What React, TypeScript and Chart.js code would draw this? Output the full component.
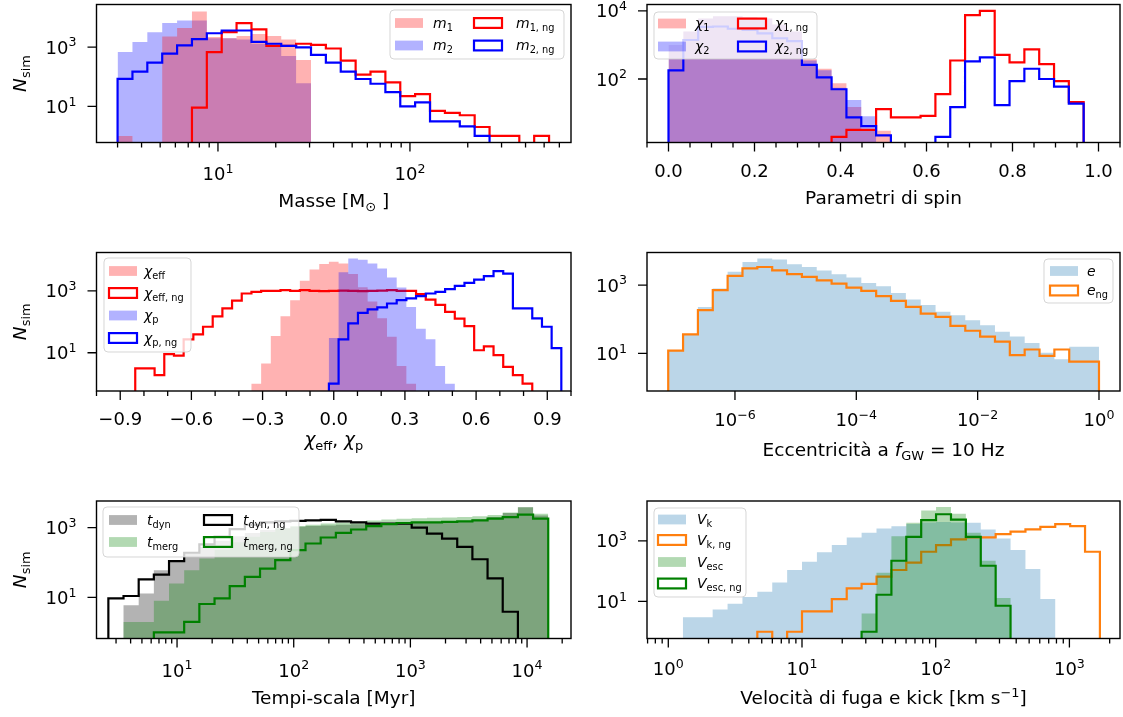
import React, { useEffect, useRef } from 'react';
import { Chart, registerables } from 'chart.js';

Chart.register(...registerables);

const PAGE_W = 1123;
const PAGE_H = 717;
const FAMILY = '"DejaVu Sans", "Liberation Sans", sans-serif';
const FLOOR = 1e-4;
const TICK_FS = 18;
const TITLE_FS = 18.5;
const LEG_FS = 14;

type Part = [string, string];

// ---------------- Panel 1: masses ----------------
const massEdges = [3.0, 3.586, 4.286, 5.124, 6.125, 7.321, 8.751, 10.46, 12.5, 14.95, 17.87, 21.36, 25.53, 30.52, 36.48, 43.61, 52.13, 62.31, 74.48, 89.03, 106.4, 127.2, 152.1, 181.8, 217.3, 259.8, 310.5, 371.2, 443.7, 530.4];
const m1Counts = [1, 0, 0, 2300, 4400, 16000, 2200, 2000, 2400, 2800, 2400, 1800, 370, 0, 0, 0, 0, 0, 0, 0, 0, 0, 0, 0, 0, 0, 0, 0, 0];
const m2Counts = [680, 1480, 3200, 6500, 8000, 8000, 2000, 2000, 1800, 1300, 1100, 500, 60, 0, 0, 0, 0, 0, 0, 0, 0, 0, 0, 0, 0, 0, 0, 0, 0];
const m1ngCounts = [0, 0, 0, 0, 0, 9, 680, 3200, 6500, 4000, 1100, 1100, 1300, 1200, 900, 350, 117, 150, 65, 22, 26, 7, 6, 5, 2, 1, 1, 0, 1];
const m2ngCounts = [85, 150, 300, 600, 1150, 1860, 2950, 3650, 3650, 1500, 1300, 1100, 980, 550, 300, 150, 84, 58, 30, 10, 13.6, 3.1, 3.1, 2.1, 1, 0, 0, 0, 0];

// ---------------- Panel 2: spins ----------------
const spinEdges = [0, 0.0345, 0.069, 0.1034, 0.1379, 0.1724, 0.2069, 0.2414, 0.2759, 0.3103, 0.3448, 0.3793, 0.4138, 0.4483, 0.4828, 0.5172, 0.5517, 0.5862, 0.6207, 0.6552, 0.6897, 0.7241, 0.7586, 0.7931, 0.8276, 0.8621, 0.8966, 0.931, 0.9655, 1.0];
const chi1Counts = [1000, 2500, 6000, 7000, 7000, 6500, 6000, 4000, 2500, 380, 200, 75, 15, 3, 3, 0, 0, 0, 0, 0, 0, 0, 0, 0, 0, 0, 0, 0, 0];
const chi2Counts = [1000, 2500, 6000, 7000, 7000, 6500, 6000, 4000, 2500, 350, 180, 55, 24, 8, 0, 0, 0, 0, 0, 0, 0, 0, 0, 0, 0, 0, 0, 0, 0];
const chi1ngCounts = [0, 0, 0, 0, 0, 0, 0, 0, 0, 0, 0, 2, 3.2, 3.2, 13, 7.4, 7.4, 8.3, 36, 350, 7600, 10000, 510, 310, 740, 275, 87, 21, 0];
const chi2ngCounts = [180, 1400, 3400, 3500, 3000, 2800, 2200, 1580, 1300, 260, 112, 50, 7.4, 4.1, 2.2, 0, 0, 0, 2, 15, 330, 430, 17, 87, 200, 100, 60, 19, 0];

// ---------------- Panel 3: chi_eff, chi_p ----------------
const effEdges = [-1, -0.9592, -0.9184, -0.8776, -0.8367, -0.7959, -0.7551, -0.7143, -0.6735, -0.6327, -0.5918, -0.551, -0.5102, -0.4694, -0.4286, -0.3878, -0.3469, -0.3061, -0.2653, -0.2245, -0.1837, -0.1429, -0.102, -0.0612, -0.0204, 0.0204, 0.0612, 0.102, 0.1429, 0.1837, 0.2245, 0.2653, 0.3061, 0.3469, 0.3878, 0.4286, 0.4694, 0.5102, 0.551, 0.5918, 0.6327, 0.6735, 0.7143, 0.7551, 0.7959, 0.8367, 0.8776, 0.9184, 0.9592, 1];
const chiEffCounts = [0, 0, 0, 0, 0, 0, 0, 0, 0, 0, 0, 0, 0, 0, 0, 0, 1, 4.5, 35, 150, 500, 2100, 4900, 7300, 8700, 7600, 3500, 1300, 450, 130, 33, 3.7, 1, 0, 0, 0, 0, 0, 0, 0, 0, 0, 0, 0, 0, 0, 0, 0, 0];
const chiEffNgCounts = [0, 0, 0, 0, 3.1, 3.1, 1.9, 9, 8, 27, 39, 69, 150, 270, 480, 820, 930, 1000, 1000, 1050, 1000, 1050, 1000, 980, 1000, 1020, 1000, 980, 1000, 1020, 1050, 1000, 1000, 780, 520, 350, 210, 127, 72, 12, 16, 8.4, 3.5, 1.9, 1, 0, 0, 0, 0];
const chiPCounts = [0, 0, 0, 0, 0, 0, 0, 0, 0, 0, 0, 0, 0, 0, 0, 0, 0, 0, 0, 0, 0, 0, 0, 0, 30, 4000, 11000, 10000, 7600, 5300, 2700, 1270, 300, 60, 27, 3.7, 1, 0, 0, 0, 0, 0, 0, 0, 0, 0, 0, 0, 0];
const chiPNgCounts = [0, 0, 0, 0, 0, 0, 0, 0, 0, 0, 0, 0, 0, 0, 0, 0, 0, 0, 0, 0, 0, 0, 0, 0, 1, 27, 89, 195, 250, 290, 390, 500, 570, 670, 820, 930, 1130, 1450, 1800, 2300, 3000, 4300, 3600, 270, 270, 128, 69, 14, 0];

// ---------------- Panel 4: eccentricity ----------------
const eccEdges = [7.943e-8, 1.395e-7, 2.452e-7, 4.309e-7, 7.57e-7, 1.33e-6, 2.337e-6, 4.107e-6, 7.217e-6, 1.268e-5, 2.228e-5, 3.916e-5, 6.88e-5, 1.209e-4, 2.125e-4, 3.733e-4, 6.56e-4, 1.153e-3, 2.025e-3, 3.559e-3, 6.252e-3, 1.099e-2, 1.93e-2, 3.392e-2, 5.96e-2, 0.1047, 0.184, 0.3233, 0.5681, 1.0];
const eCounts = [12, 36, 230, 790, 2450, 4800, 6000, 5600, 4100, 3400, 2700, 2100, 1660, 1160, 930, 590, 380, 260, 165, 132, 94, 67, 43, 31, 20, 10.5, 6.7, 15.6, 15.6];
const eNgCounts = [12, 36, 185, 710, 1870, 3100, 3400, 2700, 2100, 1740, 1380, 1110, 850, 680, 475, 345, 230, 147, 118, 64, 46, 31, 22, 8.9, 13, 8.4, 13, 5.7, 5.7];

// ---------------- Panel 5: time scales ----------------
const timeEdges = [2.578, 3.477, 4.691, 6.327, 8.536, 11.51, 15.53, 20.96, 28.27, 38.13, 51.44, 69.39, 93.59, 126.2, 170.3, 229.7, 309.9, 418.1, 564.0, 760.8, 1026, 1385, 1868, 2520, 3399, 4586, 6186, 8346, 11259, 15188];
const tDynCounts = [0, 6, 13, 60, 110, 180, 280, 420, 560, 700, 850, 950, 1050, 1100, 1150, 1200, 1250, 1250, 1300, 1300, 1350, 1400, 1450, 1500, 1700, 2000, 2600, 3800, 2200];
const tMergCounts = [0, 2, 2, 8, 25, 60, 130, 230, 380, 550, 750, 950, 1100, 1200, 1300, 1400, 1500, 1600, 1700, 1800, 1850, 1900, 1950, 2000, 2100, 2300, 2700, 3800, 2500];
const tDynNgCounts = [9.4, 11, 33, 45, 109, 190, 330, 550, 900, 1200, 1400, 1500, 1550, 1600, 1650, 1500, 1400, 1300, 1300, 1300, 1000, 670, 480, 280, 124, 35, 3.9, 0, 0];
const tMergNgCounts = [0, 0, 0, 1, 1, 2, 6.5, 9.4, 21, 39, 67, 117, 225, 350, 520, 700, 880, 1100, 1250, 1350, 1400, 1400, 1450, 1500, 1600, 1800, 2000, 2350, 1800];

// ---------------- Panel 6: velocities ----------------
const velEdges = [1.285, 1.661, 2.147, 2.775, 3.586, 4.634, 5.99, 7.742, 10.0, 12.93, 16.71, 21.6, 27.91, 36.08, 46.63, 60.26, 77.88, 100.6, 130.1, 168.1, 217.3, 280.8, 362.9, 469.1, 606.3, 783.4, 1013, 1309, 1691];
const vkCounts = [3, 3, 5.4, 8.4, 14, 21, 42, 109, 205, 415, 720, 1290, 1830, 2540, 3000, 3600, 4000, 4200, 4000, 3900, 2360, 1200, 500, 117, 12, 0, 0, 0];
const vkNgCounts = [0, 0, 0, 0, 0, 1, 0, 1, 4.7, 4.7, 12, 27, 38, 66, 109, 190, 435, 720, 1110, 1290, 1290, 1660, 1990, 2360, 2870, 3540, 3030, 435];
const vEscCounts = [0, 0, 0, 0, 0, 0, 0, 0, 0, 0, 0, 0, 4, 89, 1400, 3900, 10000, 13000, 7800, 1830, 220, 13, 0, 0, 0, 0, 0, 0];
const vEscNgCounts = [0, 0, 0, 0, 0, 0, 0, 0, 0, 0, 0, 0, 1, 16.6, 220, 1350, 4800, 7500, 5000, 1350, 150, 7.2, 0, 0, 0, 0, 0, 0];

// ---------------- Tick values & labels ----------------
const massMajor = [10, 100];
const massMajorLabels: Part[][] = [[['10', 'n'], ['1', 'p']], [['10', 'n'], ['2', 'p']]];
const massMinor = [3, 4, 5, 6, 7, 8, 9, 20, 30, 40, 50, 60, 70, 80, 90, 200, 300, 400, 500, 600];
const spinMajor = [0, 0.2, 0.4, 0.6, 0.8, 1.0];
const spinMajorLabels: Part[][] = [[['0.0', 'n']], [['0.2', 'n']], [['0.4', 'n']], [['0.6', 'n']], [['0.8', 'n']], [['1.0', 'n']]];
const spinMinor = [-0.05, 0.05, 0.1, 0.15, 0.25, 0.3, 0.35, 0.45, 0.5, 0.55, 0.65, 0.7, 0.75, 0.85, 0.9, 0.95, 1.05];
const effMajor = [-0.9, -0.6, -0.3, 0, 0.3, 0.6, 0.9];
const effMajorLabels: Part[][] = [[['−0.9', 'n']], [['−0.6', 'n']], [['−0.3', 'n']], [['0.0', 'n']], [['0.3', 'n']], [['0.6', 'n']], [['0.9', 'n']]];
const effMinor = [-1.0, -0.8, -0.7, -0.5, -0.4, -0.2, -0.1, 0.1, 0.2, 0.4, 0.5, 0.7, 0.8, 1.0];
const eccMajor = [1e-6, 1e-4, 1e-2, 1];
const eccMajorLabels: Part[][] = [[['10', 'n'], ['−6', 'p']], [['10', 'n'], ['−4', 'p']], [['10', 'n'], ['−2', 'p']], [['10', 'n'], ['0', 'p']]];
const timeMajor = [10, 100, 1000, 10000];
const timeMajorLabels: Part[][] = [[['10', 'n'], ['1', 'p']], [['10', 'n'], ['2', 'p']], [['10', 'n'], ['3', 'p']], [['10', 'n'], ['4', 'p']]];
const timeMinor = [3, 4, 5, 6, 7, 8, 9, 20, 30, 40, 50, 60, 70, 80, 90, 200, 300, 400, 500, 600, 700, 800, 900, 2000, 3000, 4000, 5000, 6000, 7000, 8000, 9000, 20000];
const velMajor = [1, 10, 100, 1000];
const velMajorLabels: Part[][] = [[['10', 'n'], ['0', 'p']], [['10', 'n'], ['1', 'p']], [['10', 'n'], ['2', 'p']], [['10', 'n'], ['3', 'p']]];
const velMinor = [0.7, 0.8, 0.9, 2, 3, 4, 5, 6, 7, 8, 9, 20, 30, 40, 50, 60, 70, 80, 90, 200, 300, 400, 500, 600, 700, 800, 900, 2000];
const yTicks13 = [10, 1000];
const yLabels13: Part[][] = [[['10', 'n'], ['1', 'p']], [['10', 'n'], ['3', 'p']]];
const yTicks24 = [100, 10000];
const yLabels24: Part[][] = [[['10', 'n'], ['2', 'p']], [['10', 'n'], ['4', 'p']]];
const nSimLabel: Part[] = [['N', 'i'], ['sim', 'b']];

// ---------------- colours ----------------
const RED = '#ff0000';
const BLUE = '#0000ff';
const RED_F = 'rgba(255,0,0,0.3)';
const BLUE_F = 'rgba(0,0,255,0.3)';
const TAB_BLUE_F = 'rgba(31,119,180,0.3)';
const ORANGE = '#ff7f0e';
const GREEN = '#008000';
const GREEN_F = 'rgba(0,128,0,0.3)';
const GREY_F = 'rgba(128,128,128,0.6)';

interface Series { counts: number[]; kind: 'fill' | 'line'; color: string; label: Part[]; z: number }
interface LegendCfg { box: [number, number, number, number]; cols: { hx: number; tx: number }[]; rows: number[]; perCol: number }
interface PanelCfg {
  box: [number, number, number, number];
  xType: 'linear' | 'logarithmic';
  xMin: number; xMax: number; yMin: number; yMax: number;
  edges: number[];
  series: Series[];
  xMajor: number[]; xLabels: Part[][]; xMinor: number[];
  yMajor: number[]; yLabels: Part[][];
  xLabelDy: number; xTitle: Part[]; xTitleY: number; yTitle: boolean;
  legend: LegendCfg;
}

const panels: PanelCfg[] = [
  {
    box: [96.5, 4.5, 571, 142.5], xType: 'logarithmic', xMin: 2.33, xMax: 690, yMin: 0.62, yMax: 27600,
    edges: massEdges,
    series: [
      { counts: m1Counts, kind: 'fill', color: RED_F, label: [['m', 'i'], ['1', 'b']], z: 1 },
      { counts: m2Counts, kind: 'fill', color: BLUE_F, label: [['m', 'i'], ['2', 'b']], z: 0 },
      { counts: m1ngCounts, kind: 'line', color: RED, label: [['m', 'i'], ['1, ng', 'b']], z: 2 },
      { counts: m2ngCounts, kind: 'line', color: BLUE, label: [['m', 'i'], ['2, ng', 'b']], z: 3 },
    ],
    xMajor: massMajor, xLabels: massMajorLabels, xMinor: massMinor, yMajor: yTicks13, yLabels: yLabels13,
    xLabelDy: 37.5, xTitle: [['Masse [M', 'n'], ['⊙', 'b'], [' ]', 'n']], xTitleY: 206.5, yTitle: true,
    legend: { box: [390, 10, 564, 59], cols: [{ hx: 395, tx: 433 }, { hx: 474, tx: 516 }], rows: [23, 45.5], perCol: 2 },
  },
  {
    box: [647, 4.5, 1120, 142.5], xType: 'linear', xMin: -0.05, xMax: 1.05, yMin: 1.36, yMax: 15500,
    edges: spinEdges,
    series: [
      { counts: chi1Counts, kind: 'fill', color: RED_F, label: [['χ', 'i'], ['1', 'b']], z: 0 },
      { counts: chi2Counts, kind: 'fill', color: BLUE_F, label: [['χ', 'i'], ['2', 'b']], z: 1 },
      { counts: chi1ngCounts, kind: 'line', color: RED, label: [['χ', 'i'], ['1, ng', 'b']], z: 2 },
      { counts: chi2ngCounts, kind: 'line', color: BLUE, label: [['χ', 'i'], ['2, ng', 'b']], z: 3 },
    ],
    xMajor: spinMajor, xLabels: spinMajorLabels, xMinor: spinMinor, yMajor: yTicks24, yLabels: yLabels24,
    xLabelDy: 34.5, xTitle: [['Parametri di spin', 'n']], xTitleY: 204, yTitle: false,
    legend: { box: [654, 12, 817, 59], cols: [{ hx: 658, tx: 695 }, { hx: 738, tx: 775 }], rows: [23.5, 46.5], perCol: 2 },
  },
  {
    box: [96.5, 252.5, 571, 391], xType: 'linear', xMin: -1, xMax: 1, yMin: 0.58, yMax: 17300,
    edges: effEdges,
    series: [
      { counts: chiEffCounts, kind: 'fill', color: RED_F, label: [['χ', 'i'], ['eff', 'b']], z: 0 },
      { counts: chiEffNgCounts, kind: 'line', color: RED, label: [['χ', 'i'], ['eff, ng', 'b']], z: 1 },
      { counts: chiPCounts, kind: 'fill', color: BLUE_F, label: [['χ', 'i'], ['p', 'b']], z: 2 },
      { counts: chiPNgCounts, kind: 'line', color: BLUE, label: [['χ', 'i'], ['p, ng', 'b']], z: 3 },
    ],
    xMajor: effMajor, xLabels: effMajorLabels, xMinor: effMinor, yMajor: yTicks13, yLabels: yLabels13,
    xLabelDy: 34, xTitle: [['χ', 'i'], ['eff', 'b'], [', ', 'n'], ['χ', 'i'], ['p', 'b']], xTitleY: 446, yTitle: true,
    legend: { box: [104, 258, 191, 352], cols: [{ hx: 109, tx: 144 }], rows: [271, 293, 315.5, 338], perCol: 4 },
  },
  {
    box: [647, 252.5, 1120, 391], xType: 'logarithmic', xMin: 3.55e-8, xMax: 2.22, yMin: 0.79, yMax: 9040,
    edges: eccEdges,
    series: [
      { counts: eCounts, kind: 'fill', color: TAB_BLUE_F, label: [['e', 'i']], z: 0 },
      { counts: eNgCounts, kind: 'line', color: ORANGE, label: [['e', 'i'], ['ng', 'b']], z: 1 },
    ],
    xMajor: eccMajor, xLabels: eccMajorLabels, xMinor: [], yMajor: yTicks13, yLabels: yLabels13,
    xLabelDy: 35, xTitle: [['Eccentricità a ', 'n'], ['f', 'i'], ['GW', 'b'], [' = 10 Hz', 'n']], xTitleY: 456, yTitle: false,
    legend: { box: [1044, 259, 1113, 303], cols: [{ hx: 1050, tx: 1087 }], rows: [271, 290.5], perCol: 2 },
  },
  {
    box: [96.5, 501, 571, 638.5], xType: 'logarithmic', xMin: 2.04, xMax: 23800, yMin: 0.67, yMax: 5750,
    edges: timeEdges,
    series: [
      { counts: tDynCounts, kind: 'fill', color: GREY_F, label: [['t', 'i'], ['dyn', 'b']], z: 0 },
      { counts: tMergCounts, kind: 'fill', color: GREEN_F, label: [['t', 'i'], ['merg', 'b']], z: 1 },
      { counts: tDynNgCounts, kind: 'line', color: '#000000', label: [['t', 'i'], ['dyn, ng', 'b']], z: 2 },
      { counts: tMergNgCounts, kind: 'line', color: GREEN, label: [['t', 'i'], ['merg, ng', 'b']], z: 3 },
    ],
    xMajor: timeMajor, xLabels: timeMajorLabels, xMinor: timeMinor, yMajor: yTicks13, yLabels: yLabels13,
    xLabelDy: 38, xTitle: [['Tempi-scala [Myr]', 'n']], xTitleY: 704, yTitle: true,
    legend: { box: [103, 507, 299, 557], cols: [{ hx: 109, tx: 147 }, { hx: 204, tx: 243 }], rows: [520, 542], perCol: 2 },
  },
  {
    box: [647, 501, 1120, 638.5], xType: 'logarithmic', xMin: 0.693, xMax: 2390, yMin: 0.63, yMax: 20500,
    edges: velEdges,
    series: [
      { counts: vkCounts, kind: 'fill', color: TAB_BLUE_F, label: [['V', 'i'], ['k', 'b']], z: 0 },
      { counts: vkNgCounts, kind: 'line', color: ORANGE, label: [['V', 'i'], ['k, ng', 'b']], z: 1 },
      { counts: vEscCounts, kind: 'fill', color: GREEN_F, label: [['V', 'i'], ['esc', 'b']], z: 2 },
      { counts: vEscNgCounts, kind: 'line', color: GREEN, label: [['V', 'i'], ['esc, ng', 'b']], z: 3 },
    ],
    xMajor: velMajor, xLabels: velMajorLabels, xMinor: velMinor, yMajor: yTicks13, yLabels: yLabels13,
    xLabelDy: 36.5, xTitle: [['Velocità di fuga e kick [km s', 'n'], ['−1', 'p'], [']', 'n']], xTitleY: 704, yTitle: false,
    legend: { box: [654, 508, 746, 597], cols: [{ hx: 658, tx: 697 }], rows: [519.5, 540, 562, 583.5], perCol: 4 },
  },
];

// ---------------- rich text helpers ----------------
function fontFor(mode: string, size: number) {
  const small = mode.includes('b') || mode.includes('p');
  const s = small ? size * 0.7 : size;
  return `${mode.includes('i') ? 'italic ' : ''}${s}px ${FAMILY}`;
}
function richWidth(ctx: CanvasRenderingContext2D, parts: Part[], size: number) {
  let w = 0;
  for (const [t, m] of parts) {
    ctx.font = fontFor(m, size);
    w += ctx.measureText(t).width;
  }
  return w;
}
function drawRich(ctx: CanvasRenderingContext2D, parts: Part[], x: number, y: number, size: number, align: 'left' | 'center' | 'right') {
  const w = richWidth(ctx, parts, size);
  let cx = align === 'center' ? x - w / 2 : align === 'right' ? x - w : x;
  ctx.textAlign = 'left';
  ctx.textBaseline = 'alphabetic';
  for (const [t, m] of parts) {
    ctx.font = fontFor(m, size);
    const dy = m.includes('b') ? size * 0.22 : m.includes('p') ? -size * 0.4 : 0;
    ctx.fillText(t, cx, y + dy);
    cx += ctx.measureText(t).width;
  }
}

function stepPoints(edges: number[], counts: number[]) {
  const pts = [{ x: edges[0], y: FLOOR }];
  counts.forEach((c, i) => pts.push({ x: edges[i], y: c > 0 ? c : FLOOR }));
  pts.push({ x: edges[counts.length], y: FLOOR });
  return pts;
}

function drawLegend(ctx: CanvasRenderingContext2D, lg: LegendCfg, series: Series[]) {
  const [x0, y0, x1, y1] = lg.box;
  ctx.save();
  ctx.beginPath();
  const r = 4;
  ctx.moveTo(x0 + r, y0);
  ctx.lineTo(x1 - r, y0);
  ctx.quadraticCurveTo(x1, y0, x1, y0 + r);
  ctx.lineTo(x1, y1 - r);
  ctx.quadraticCurveTo(x1, y1, x1 - r, y1);
  ctx.lineTo(x0 + r, y1);
  ctx.quadraticCurveTo(x0, y1, x0, y1 - r);
  ctx.lineTo(x0, y0 + r);
  ctx.quadraticCurveTo(x0, y0, x0 + r, y0);
  ctx.closePath();
  ctx.fillStyle = 'rgba(255,255,255,0.8)';
  ctx.fill();
  ctx.strokeStyle = 'rgba(204,204,204,0.8)';
  ctx.lineWidth = 1;
  ctx.stroke();
  series.forEach((s, i) => {
    const col = Math.floor(i / lg.perCol);
    const row = i % lg.perCol;
    const { hx, tx } = lg.cols[col];
    const yc = lg.rows[row];
    const hw = 28, hh = 9.8;
    if (s.kind === 'fill') {
      ctx.fillStyle = s.color;
      ctx.fillRect(hx, yc - hh / 2, hw, hh);
    } else {
      ctx.strokeStyle = s.color;
      ctx.lineWidth = 2.2;
      ctx.strokeRect(hx, yc - hh / 2, hw, hh);
    }
    ctx.fillStyle = '#000';
    drawRich(ctx, s.label, tx, yc + 4.5, LEG_FS, 'left');
  });
  ctx.restore();
}

function makeDecor(cfg: PanelCfg, idx: number) {
  return {
    id: 'decor' + idx,
    afterDraw(chart: any) {
      const ctx: CanvasRenderingContext2D = chart.ctx;
      const a = chart.chartArea;
      const xs = chart.scales.x;
      const ys = chart.scales.y;
      ctx.save();
      ctx.strokeStyle = '#000';
      ctx.lineWidth = 1.4;
      ctx.strokeRect(a.left, a.top, a.right - a.left, a.bottom - a.top);
      ctx.lineWidth = 1.3;
      ctx.beginPath();
      for (const v of cfg.xMajor) {
        const px = xs.getPixelForValue(v);
        ctx.moveTo(px, a.bottom);
        ctx.lineTo(px, a.bottom + 9);
      }
      for (const v of cfg.xMinor) {
        const px = xs.getPixelForValue(v);
        ctx.moveTo(px, a.bottom);
        ctx.lineTo(px, a.bottom + 5);
      }
      for (const v of cfg.yMajor) {
        const py = ys.getPixelForValue(v);
        ctx.moveTo(a.left, py);
        ctx.lineTo(a.left - 9, py);
      }
      ctx.stroke();
      ctx.fillStyle = '#000';
      cfg.xMajor.forEach((v, i) => drawRich(ctx, cfg.xLabels[i], xs.getPixelForValue(v), a.bottom + cfg.xLabelDy, TICK_FS, 'center'));
      cfg.yMajor.forEach((v, i) => drawRich(ctx, cfg.yLabels[i], a.left - 20, ys.getPixelForValue(v) + 6.5, TICK_FS, 'right'));
      drawRich(ctx, cfg.xTitle, (a.left + a.right) / 2, cfg.xTitleY, TITLE_FS, 'center');
      if (cfg.yTitle) {
        ctx.save();
        ctx.translate(26, (a.top + a.bottom) / 2);
        ctx.rotate(-Math.PI / 2);
        drawRich(ctx, nSimLabel, 0, 0, TITLE_FS, 'center');
        ctx.restore();
      }
      ctx.restore();
      drawLegend(ctx, cfg.legend, cfg.series);
    },
  };
}

function buildConfig(cfg: PanelCfg, idx: number): any {
  const datasets = cfg.series.map((s) => ({
    label: s.label.map((p) => p[0]).join(''),
    data: stepPoints(cfg.edges, s.counts),
    stepped: 'before',
    fill: s.kind === 'fill' ? 'start' : false,
    backgroundColor: s.kind === 'fill' ? s.color : 'rgba(0,0,0,0)',
    borderColor: s.kind === 'fill' ? 'rgba(0,0,0,0)' : s.color,
    borderWidth: s.kind === 'fill' ? 0 : 2.2,
    borderJoinStyle: 'miter',
    pointRadius: 0,
    tension: 0,
    order: -s.z,
  }));
  const [l, t, r, b] = cfg.box;
  return {
    type: 'line',
    data: { datasets },
    options: {
      animation: false,
      responsive: false,
      events: [],
      layout: { padding: { left: l, top: t, right: PAGE_W - r, bottom: PAGE_H - b } },
      scales: {
        x: { type: cfg.xType, min: cfg.xMin, max: cfg.xMax, display: false },
        y: { type: 'logarithmic', min: cfg.yMin, max: cfg.yMax, display: false },
      },
      plugins: { legend: { display: false }, tooltip: { enabled: false } },
    },
    plugins: [makeDecor(cfg, idx)],
  };
}

function PanelChart({ cfg, idx }: { cfg: PanelCfg; idx: number }) {
  const ref = useRef<HTMLCanvasElement>(null);
  useEffect(() => {
    if (!ref.current) return;
    const chart = new Chart(ref.current, buildConfig(cfg, idx));
    return () => chart.destroy();
  }, [cfg, idx]);
  return (
    <canvas
      ref={ref}
      width={PAGE_W}
      height={PAGE_H}
      style={{ position: 'absolute', left: 0, top: 0, width: PAGE_W, height: PAGE_H }}
    />
  );
}

export default function App() {
  return (
    <div style={{ position: 'absolute', left: 0, top: 0, width: PAGE_W, height: PAGE_H, background: '#ffffff', overflow: 'hidden' }}>
      {panels.map((p, i) => (
        <PanelChart key={i} cfg={p} idx={i} />
      ))}
    </div>
  );
}
